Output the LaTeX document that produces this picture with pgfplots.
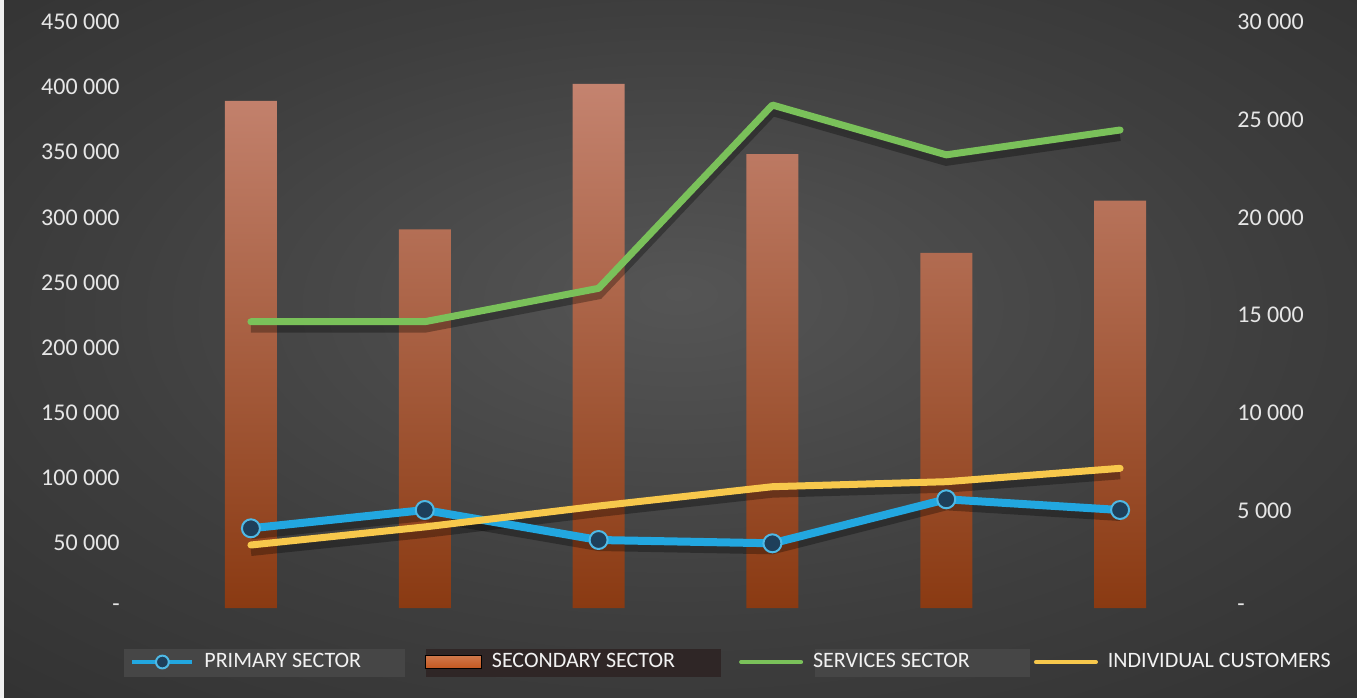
\documentclass[border=0pt]{standalone}
\usepackage{pgfplots}
\pgfplotsset{compat=1.18}
\usepackage{fontspec}
\setmainfont{Carlito}
\definecolor{bgC}{HTML}{555555}
\definecolor{bgM}{HTML}{3E3E3E}
\definecolor{bgO}{HTML}{242424}
\definecolor{barTop}{HTML}{C4836F}
\definecolor{barMid}{HTML}{B2592A}
\definecolor{barBot}{HTML}{8A3A12}
\definecolor{pBlue}{HTML}{22A7E0}
\definecolor{pMark}{HTML}{1E3F5A}
\definecolor{sGreen}{HTML}{7AC15A}
\definecolor{iYellow}{HTML}{F7C84C}
\definecolor{tickC}{HTML}{E6E6E6}
\definecolor{legText}{HTML}{F2F2F2}
\definecolor{legBoxA}{HTML}{464646}
\definecolor{legBoxB}{HTML}{2F2626}
\definecolor{swatch}{HTML}{C4571F}
\pgfdeclareradialshading{bgshade}{\pgfpoint{0bp}{4bp}}{color(0bp)=(bgC); color(22bp)=(bgM); color(55bp)=(bgO)}
\begin{document}
\begin{tikzpicture}
\shade[shading=bgshade] (0,0) rectangle (678.5bp,349bp);
\fill[white!88!gray] (0,0) rectangle (2bp,349bp);
\fill[legBoxA] (62bp,10.5bp) rectangle (202.5bp,24.5bp);
\fill[legBoxB] (213bp,10.5bp) rectangle (360.5bp,24.5bp);
\fill[legBoxA] (407.5bp,10.5bp) rectangle (515bp,24.5bp);
\begin{axis}[
  at={(82bp,45bp)}, anchor=south west, scale only axis,
  width=521.5bp, height=293bp,
  xmin=-0.5, xmax=5.5, ymin=0, ymax=450000,
  axis line style={draw=none}, major tick style={draw=none},
  xtick=\empty,
  ytick={0,50000,100000,150000,200000,250000,300000,350000,400000,450000},
  yticklabels={{-\hspace{5bp}},50~000,100~000,150~000,200~000,250~000,300~000,350~000,400~000,450~000},
  ytick pos=left, yticklabel pos=left,
  yticklabel style={anchor=east, inner sep=0pt, xshift=-22bp, text=tickC, font=\fontsize{12bp}{14bp}\selectfont},
  scaled y ticks=false,
  clip=false,
]
\addplot[ybar, bar width=26bp, draw=none, top color=barTop, middle color=barMid, bottom color=barBot]
  coordinates {(0,389500) (1,290800) (2,402400) (3,348600) (4,272800) (5,312800)};
\end{axis}
\begin{axis}[
  at={(82bp,45bp)}, anchor=south west, scale only axis,
  width=521.5bp, height=293bp,
  xmin=-0.5, xmax=5.5, ymin=0, ymax=30000,
  axis line style={draw=none}, major tick style={draw=none},
  xtick=\empty,
  ytick={0,5000,10000,15000,20000,25000,30000},
  yticklabels={-,5~000,10~000,15~000,20~000,25~000,30~000},
  ytick pos=right, yticklabel pos=right,
  yticklabel style={anchor=west, inner sep=0pt, xshift=15bp, text=tickC, font=\fontsize{12bp}{14bp}\selectfont},
  scaled y ticks=false,
  clip=false,
  legend columns=4,
  legend style={at={(-0.0326,-0.0922)}, anchor=west, draw=none, fill=none, inner sep=0pt,
    text=legText, font=\fontsize{11bp}{13bp}\selectfont,
    /tikz/every even column/.append style={column sep=30bp}},
  legend image code/.code={\draw[mark repeat=2, mark phase=2, #1, line width=2bp, mark size=3.2bp] plot coordinates {(0bp,0bp) (15bp,0bp) (30bp,0bp)};},
]
\addplot[black, opacity=0.3, line width=5bp, yshift=-3bp, forget plot] coordinates {(0,4080) (1,5017) (2,3481) (3,3312) (4,5564) (5,5017)};
\addplot[black, opacity=0.3, line width=5bp, yshift=-3bp, forget plot] coordinates {(0,14656) (1,14656) (2,16366) (3,25749) (4,23199) (5,24471)};
\addplot[black, opacity=0.3, line width=5bp, yshift=-3bp, forget plot] coordinates {(0,3225) (1,4150) (2,5221) (3,6210) (4,6466) (5,7151)};
\addplot[pBlue, line width=4bp, line join=round, mark=*, mark size=4.5bp, mark options={fill=pMark, draw=pBlue!80!white, line width=1bp}]
  coordinates {(0,4080) (1,5017) (2,3481) (3,3312) (4,5564) (5,5017)};
\addlegendentry{\hspace{3bp}PRIMARY SECTOR}
\addlegendimage{legend image code/.code={\fill[top color=swatch!80!white, bottom color=swatch] (0bp,-3.3bp) rectangle (28bp,3.3bp);}}
\addlegendentry{\hspace{3bp}SECONDARY SECTOR}
\addplot[sGreen, line width=3.5bp, line join=round, line cap=round]
  coordinates {(0,14656) (1,14656) (2,16366) (3,25749) (4,23199) (5,24471)};
\addlegendentry{\hspace{3bp}SERVICES SECTOR}
\addplot[iYellow, line width=3.5bp, line join=round, line cap=round]
  coordinates {(0,3225) (1,4150) (2,5221) (3,6210) (4,6466) (5,7151)};
\addlegendentry{\hspace{3bp}INDIVIDUAL CUSTOMERS}
\end{axis}
\pgfresetboundingbox
\useasboundingbox (0,0) rectangle (678.5bp,349bp);
\end{tikzpicture}
\end{document}
